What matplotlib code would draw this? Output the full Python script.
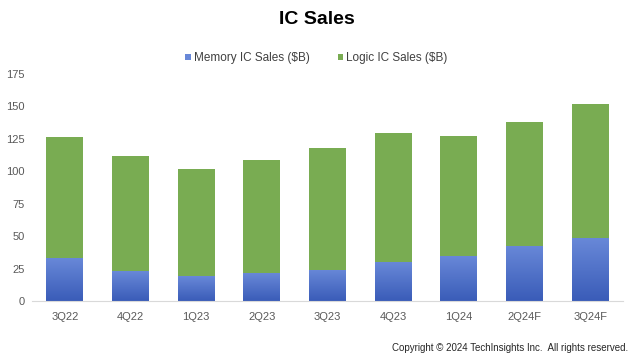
import numpy as np
import matplotlib
matplotlib.use("Agg")
from matplotlib import pyplot as plt
from matplotlib.colors import LinearSegmentedColormap

plt.rcParams["font.family"] = ["Liberation Sans", "DejaVu Sans"]

quarters = ["3Q22", "4Q22", "1Q23", "2Q23", "3Q23", "4Q23", "1Q24", "2Q24F", "3Q24F"]
memory = [33.1, 22.8, 19.0, 21.5, 24.1, 30.0, 34.6, 42.6, 48.2]
total = [126.5, 111.8, 101.5, 108.8, 117.7, 129.2, 127.2, 138.2, 152.1]
logic = [t - m for t, m in zip(total, memory)]

green = "#79AC52"
blue_top = "#6888D8"
blue_bottom = "#3A5CB8"

fig = plt.figure(figsize=(6.33, 3.57), dpi=100)
ax = fig.add_axes([32 / 633, 56 / 357, 591 / 633, 227 / 357])

xs = np.arange(len(quarters))
mem_bars = ax.bar(xs, memory, width=0.56, color=blue_top, label="Memory IC Sales ($B)")
ax.bar(xs, logic, bottom=memory, width=0.56, color=green, label="Logic IC Sales ($B)")

# vertical gradient on the memory part, clipped to each bar
cmap = LinearSegmentedColormap.from_list("memblue", [blue_bottom, blue_top])
grad = np.linspace(0, 1, 100).reshape(-1, 1)
for b in mem_bars:
    x0, y0 = b.get_x(), b.get_y()
    im = ax.imshow(grad, cmap=cmap, aspect="auto", origin="lower",
                   extent=(x0, x0 + b.get_width(), y0, y0 + b.get_height()), zorder=b.get_zorder() + 0.1)
    im.set_clip_path(b)

ax.set_xlim(-0.5, len(quarters) - 0.5)
ax.set_ylim(0, 175)
ax.set_yticks(range(0, 176, 25))
ax.set_xticks(xs)
ax.set_xticklabels(quarters)
ax.tick_params(length=0, labelsize=8, colors="#595959")
ax.tick_params(axis="x", pad=8)
ax.tick_params(axis="y", pad=5)
for s in ["top", "right", "left"]:
    ax.spines[s].set_visible(False)
ax.spines["bottom"].set_color("#D9D9D9")

fig.text(0.5, 1 - 19 / 357, "IC Sales", ha="center", va="center", fontsize=14, fontweight="bold", color="black")
fig.legend(loc="center", bbox_to_anchor=(0.5, 1 - 58 / 357), ncol=2, frameon=False,
           fontsize=8.5, handlelength=0.45, handleheight=0.45, handletextpad=0.25, columnspacing=2.4,
           labelcolor="#404040")
fig.text(0.993, 1 - 348 / 357, "Copyright \u00a9 2024 TechInsights Inc.  All rights reserved.",
         ha="right", va="center", fontsize=7, color="#262626")

fig.savefig("out.png", dpi=100)
